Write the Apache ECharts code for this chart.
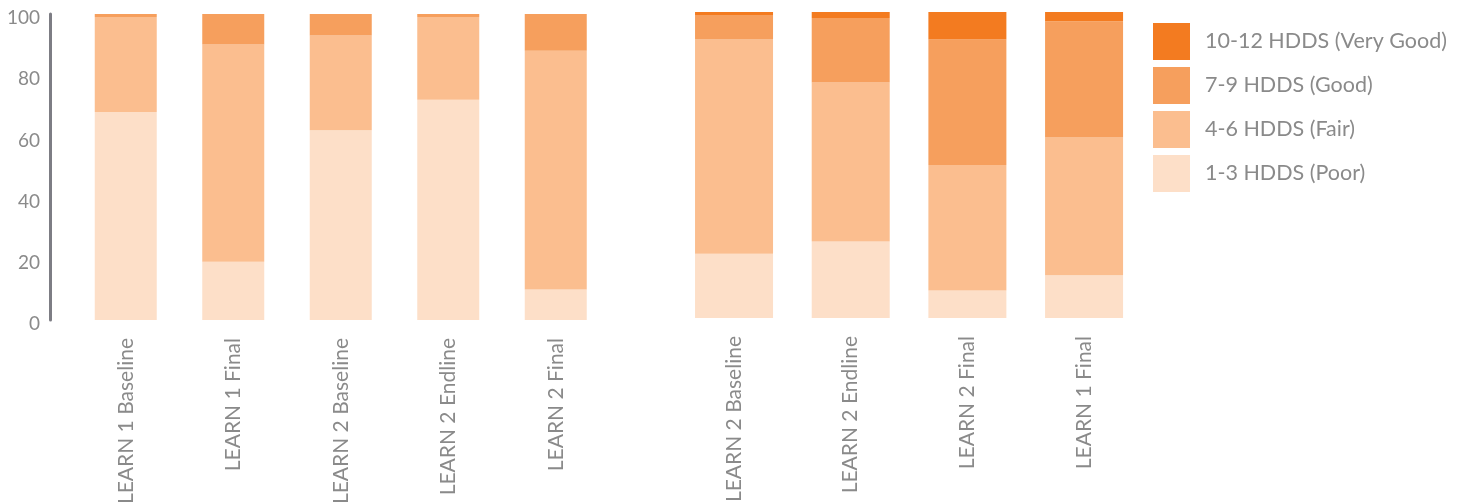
<!DOCTYPE html>
<html><head><meta charset="utf-8">
<script src="https://cdn.jsdelivr.net/npm/echarts@6/dist/echarts.min.js"></script>
<style>html,body{margin:0;padding:0;background:#fff;}#c{width:1468px;height:504px;}</style>
</head><body><div id="c"></div>
<script>
const categoriesLeft = ["LEARN 1 Baseline","LEARN 1 Final","LEARN 2 Baseline","LEARN 2 Endline","LEARN 2 Final"];
const categoriesRight = ["LEARN 2 Baseline","LEARN 2 Endline","LEARN 2 Final","LEARN 1 Final"];
const seriesNames = ["1-3 HDDS (Poor)","4-6 HDDS (Fair)","7-9 HDDS (Good)","10-12 HDDS (Very Good)"];
const poorLeft = [68,19,62,72,10];
const fairLeft = [31,71,31,27,78];
const goodLeft = [1,10,7,1,12];
const veryGoodLeft = [0,0,0,0,0];
const poorRight = [21,25,9,14];
const fairRight = [70,52,41,45];
const goodRight = [8,21,41,38];
const veryGoodRight = [1,2,9,3];
const yTicks = [0,20,40,60,80,100];

const colors = ["#FDDFC8","#FBBE8F","#F69F5D","#F37B20"];
const FONT = "Lato";
const TXT = "#8a8a8a";

const leftData = [poorLeft, fairLeft, goodLeft, veryGoodLeft];
const rightData = [poorRight, fairRight, goodRight, veryGoodRight];
const series = [];
leftData.forEach((d,i)=>series.push({name:seriesNames[i],type:'bar',stack:'L',xAxisIndex:0,yAxisIndex:0,barWidth:62,data:d,itemStyle:{color:colors[i]}}));
rightData.forEach((d,i)=>series.push({name:seriesNames[i],type:'bar',stack:'R',xAxisIndex:1,yAxisIndex:1,barWidth:78,data:d,itemStyle:{color:colors[i]}}));

const xAxisCommon = {type:'category',axisLine:{show:false},axisTick:{show:false},
  axisLabel:{rotate:90,color:TXT,fontFamily:FONT,fontSize:21,margin:18}};
const chart = echarts.init(document.getElementById('c'),null,{renderer:'canvas'});
chart.setOption({
  animation:false,
  color:colors,
  grid:[{left:72,top:14,width:537.5,bottom:184,containLabel:false,outerBoundsMode:'none'},
        {left:675.7,top:12,width:466.7,bottom:186,containLabel:false,outerBoundsMode:'none'}],
  xAxis:[Object.assign({gridIndex:0,data:categoriesLeft},xAxisCommon),Object.assign({gridIndex:1,data:categoriesRight},xAxisCommon)],
  yAxis:[{gridIndex:0,type:'value',min:yTicks[0],max:yTicks[yTicks.length-1],interval:20,offset:22,
      axisLine:{show:true,lineStyle:{color:'#7d7d84',width:3}},axisTick:{show:false},splitLine:{show:false},
      axisLabel:{color:TXT,fontFamily:FONT,fontSize:19,margin:10,verticalAlign:'top',lineHeight:8}},
    {gridIndex:1,type:'value',min:0,max:100,show:false,splitLine:{show:false}}],
  legend:{orient:'vertical',left:1153,top:23,padding:0,itemWidth:37,itemHeight:37,itemGap:7,icon:'rect',
    data:[seriesNames[3],seriesNames[2],seriesNames[1],seriesNames[0]],
    textStyle:{color:TXT,fontFamily:FONT,fontSize:21.5,padding:[0,0,0,10]}},
  series:series
});
</script></body></html>
